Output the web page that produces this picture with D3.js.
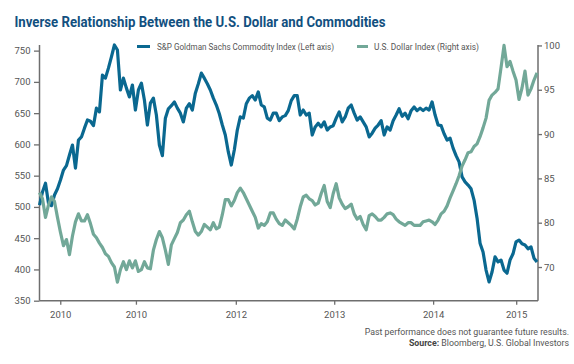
<!DOCTYPE html>
<html>
<head>
<meta charset="utf-8">
<script src="https://cdn.jsdelivr.net/npm/d3@7"></script>
<style>
    html, body { margin: 0; padding: 0; background: #fff; }
    svg { display: block; font-family: Roboto, "Noto Sans", sans-serif; }
</style>
</head>
<body>
<svg id="chart" width="574" height="364"></svg>
<script>
// S&P Goldman Sachs Commodity Index (left axis)
const commodity = [
    503, 524, 538, 506, 502, 519, 529, 543, 559, 566,
    583, 599, 562, 607, 612, 626, 639, 637, 630, 658,
    652, 711, 706, 722, 740, 759, 751, 687, 706, 690,
    676, 695, 655, 687, 698, 671, 631, 666, 674, 647,
    599, 582, 642, 657, 662, 668, 658, 650, 636, 658,
    665, 655, 682, 697, 714, 706, 697, 687, 674, 663,
    649, 631, 615, 588, 567, 591, 623, 644, 642, 665,
    674, 678, 671, 684, 663, 660, 642, 639, 650, 650,
    638, 644, 646, 654, 670, 678, 678, 647, 655, 647,
    650, 615, 628, 634, 628, 636, 623, 628, 630, 642,
    652, 636, 644, 658, 663, 650, 639, 644, 636, 628,
    612, 618, 626, 631, 638, 615, 628, 623, 638, 647,
    657, 645, 650, 641, 654, 660, 654, 658, 654, 658,
    655, 668, 647, 631, 630, 617, 607, 610, 594, 582,
    572, 548, 540, 535, 529, 511, 482, 442, 428, 399,
    380, 396, 420, 412, 415, 399, 394, 415, 425, 444,
    447, 441, 439, 433, 436, 418, 412,
];

// U.S. Dollar Index (right axis)
const dollar = [
    83.4, 82.7, 80.6, 82.0, 82.9, 82.4, 80.6, 78.9, 77.4, 78.1,
    76.4, 78.5, 80.1, 81.0, 80.2, 80.2, 80.9, 79.9, 78.7, 78.3,
    77.7, 77.2, 76.5, 76.2, 75.5, 75.0, 73.3, 74.7, 75.6, 74.7,
    75.7, 74.9, 75.7, 74.5, 74.7, 75.6, 74.9, 74.8, 76.9, 78.1,
    79.0, 78.3, 76.9, 75.3, 77.5, 78.2, 78.9, 80.0, 80.3, 80.9,
    81.3, 80.1, 79.0, 78.6, 79.0, 79.8, 79.5, 79.2, 80.0, 79.3,
    79.5, 80.9, 82.6, 82.6, 81.9, 82.5, 83.4, 83.9, 83.4, 82.7,
    82.0, 81.3, 80.6, 79.4, 79.9, 79.7, 80.1, 81.1, 81.1, 80.4,
    79.9, 79.7, 80.3, 80.0, 79.7, 79.3, 80.4, 81.8, 82.9, 83.1,
    82.7, 82.5, 82.0, 82.2, 83.3, 84.2, 82.4, 81.7, 83.3, 84.4,
    82.8, 82.1, 81.6, 81.8, 82.1, 81.0, 80.4, 80.7, 79.8, 79.2,
    80.8, 81.0, 80.7, 80.3, 80.3, 80.6, 81.0, 81.1, 80.9, 80.4,
    80.1, 79.9, 79.7, 80.0, 80.0, 79.7, 79.7, 79.7, 80.1, 80.2,
    80.3, 80.1, 79.8, 80.3, 81.0, 81.3, 81.9, 82.8, 83.6, 84.4,
    85.3, 86.4, 87.1, 87.9, 88.0, 88.6, 88.9, 89.7, 90.7, 91.8,
    93.8, 94.4, 94.7, 95.1, 97.5, 100.0, 97.6, 98.2, 97.1, 96.1,
    93.9, 95.2, 97.1, 94.4, 95.1, 96.1, 96.9,
];

// samples are evenly spaced in time
const startYear = 2010.02;
const yearStep  = 3 / 99;

const xTickYears  = [2010.23, 2010.995, 2012.005, 2013, 2014, 2014.84];
const xTickLabels = ['2010', '2010', '2012', '2013', '2014', '2015'];

const leftTicks       = [350, 400, 450, 500, 550, 600, 650, 700, 750];
const rightTicks      = [100, 95, 90, 85, 80, 75];
const rightTickLabels = ['100', '95', '90', '85', '80', '70'];

const seriesNames = [
    'S&P Goldman Sachs Commodity Index (Left axis)',
    'U.S. Dollar Index (Right axis)',
];

const BLUE  = '#0a6890';
const TEAL  = '#72a898';
const AXIS  = '#6e6e6e';
const LABEL = '#555';

const years = commodity.map((_, i) => startYear + i * yearStep);

const svg = d3.select('#chart');

// --- Scales ---
const x = d3.scaleLinear()
    .domain([startYear, years[years.length - 1]])
    .range([39.5, 537]);

const yL = d3.scaleLinear().domain([350, 759]).range([300.7, 45]);
const yR = d3.scaleLinear().domain([71.2, 100.05]).range([300.7, 45]);

// --- Title ---
svg.append('text')
    .attr('x',           14.5)
    .attr('y',           27)
    .attr('font-size',   '14.5px')
    .attr('font-weight', 700)
    .attr('fill',        '#12507f')
    .attr('textLength',  371)
    .attr('lengthAdjust', 'spacingAndGlyphs')
    .text('Inverse Relationship Between the U.S. Dollar and Commodities');

// --- Axes ---
function styleAxis(g) {
    g.select('.domain').remove();
    g.selectAll('.tick line').attr('stroke', AXIS).attr('stroke-width', 1.3);
    g.selectAll('.tick text')
        .attr('fill', LABEL)
        .attr('font-size', '9.5px')
        .attr('font-family', 'Roboto, sans-serif');
}

svg.append('g')
    .attr('transform', 'translate(39.5,0)')
    .call(d3.axisLeft(yL).tickValues(leftTicks).tickSize(5.5).tickPadding(3.5))
    .call(styleAxis);

svg.append('g')
    .attr('transform', 'translate(538,0)')
    .call(d3.axisRight(yR)
        .tickValues(rightTicks)
        .tickFormat((d, i) => rightTickLabels[i])
        .tickSize(4)
        .tickPadding(2))
    .call(styleAxis);

svg.append('g')
    .attr('transform', 'translate(0,300.7)')
    .call(d3.axisBottom(x)
        .tickValues(xTickYears)
        .tickFormat((d, i) => xTickLabels[i])
        .tickSize(4)
        .tickPadding(6.5))
    .call(styleAxis);

// frame: left, bottom, right
const frame = [
    [[39.5, 45], [39.5, 300.7]],
    [[39.5, 300.7], [538, 300.7]],
    [[538, 45], [538, 300.7]],
];
svg.append('g').selectAll('line')
    .data(frame).join('line')
    .attr('x1', d => d[0][0]).attr('y1', d => d[0][1])
    .attr('x2', d => d[1][0]).attr('y2', d => d[1][1])
    .attr('stroke', AXIS)
    .attr('stroke-width', 1.5);

// --- Lines ---
const lineL = d3.line().x((d, i) => x(years[i])).y(d => yL(d));
const lineR = d3.line().x((d, i) => x(years[i])).y(d => yR(d));

svg.append('path')
    .datum(commodity)
    .attr('d',               lineL)
    .attr('fill',            'none')
    .attr('stroke',          BLUE)
    .attr('stroke-width',    3.2)
    .attr('stroke-linejoin', 'round');

svg.append('path')
    .datum(dollar)
    .attr('d',               lineR)
    .attr('fill',            'none')
    .attr('stroke',          TEAL)
    .attr('stroke-width',    3.2)
    .attr('stroke-linejoin', 'round');

// --- Legend ---
const legendItems = [
    { name: seriesNames[0], color: BLUE, x0: 137, x1: 150, tx: 157, w: 177 },
    { name: seriesNames[1], color: TEAL, x0: 357, x1: 368, tx: 374, w: 105 },
];

const legend = svg.append('g').selectAll('g')
    .data(legendItems).join('g');

legend.append('line')
    .attr('x1', d => d.x0).attr('x2', d => d.x1)
    .attr('y1', 46.5).attr('y2', 46.5)
    .attr('stroke', d => d.color)
    .attr('stroke-width', 3);

legend.append('text')
    .attr('x',            d => d.tx)
    .attr('y',            50)
    .attr('font-size',    '9px')
    .attr('fill',         LABEL)
    .attr('textLength',   d => d.w)
    .attr('lengthAdjust', 'spacingAndGlyphs')
    .text(d => d.name);

// --- Footer ---
svg.append('text')
    .attr('x',           569)
    .attr('y',           334.5)
    .attr('text-anchor', 'end')
    .attr('font-size',   '8.8px')
    .attr('fill',        LABEL)
    .text('Past performance does not guarantee future results.');

const src = svg.append('text')
    .attr('x',           569)
    .attr('y',           345.5)
    .attr('text-anchor', 'end')
    .attr('font-size',   '8.8px')
    .attr('fill',        LABEL);
src.append('tspan').attr('font-weight', 700).attr('fill', '#444').text('Source:');
src.append('tspan').text(' Bloomberg, U.S. Global Investors');
</script>
</body>
</html>
